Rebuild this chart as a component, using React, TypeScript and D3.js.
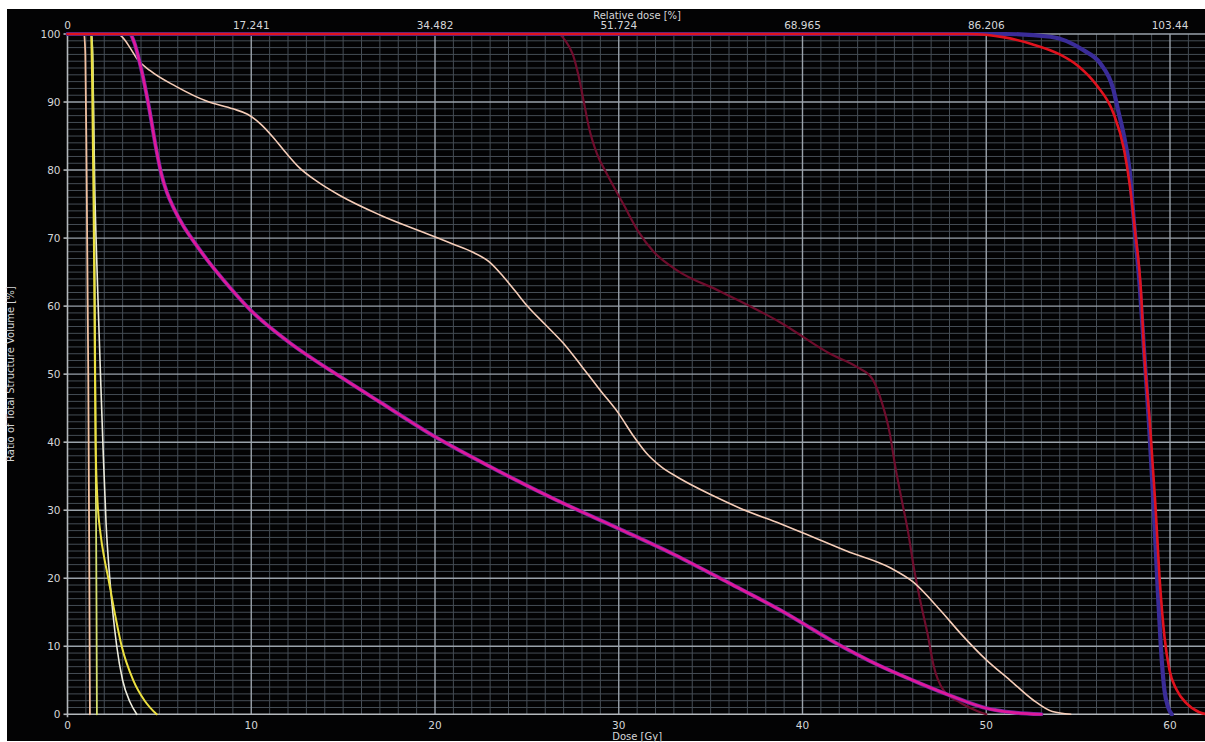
import React from "react";
import * as d3 from "d3";

// ---- axis ticks ----
const doseTicks = [0, 10, 20, 30, 40, 50, 60];
const relTickLabels = ["0", "17.241", "34.482", "51.724", "68.965", "86.206", "103.44"];
const volTicks = [0, 10, 20, 30, 40, 50, 60, 70, 80, 90, 100];

// ---- DVH curves: [dose Gy, volume %] ----
const peachSpike: [number, number][] = [
  [0, 100], [0.9, 100], [0.97, 97], [1.04, 80], [1.13, 50], [1.18, 25], [1.22, 0],
];
const greenSpike: [number, number][] = [
  [0, 100], [1.32, 100], [1.38, 95], [1.47, 70], [1.54, 35], [1.58, 15], [1.6, 0],
];
const yellowTail: [number, number][] = [
  [0, 100], [1.28, 100], [1.34, 93], [1.42, 75], [1.48, 55], [1.53, 40], [1.62, 32],
  [1.8, 26.5], [2.0, 23], [2.22, 20], [2.6, 14.5], [2.95, 10], [3.58, 5], [4.2, 2], [4.85, 0],
];
const whiteTail: [number, number][] = [
  [0, 100], [1.33, 100], [1.4, 92], [1.48, 78], [1.6, 66], [1.72, 56], [1.82, 48],
  [1.95, 38], [2.1, 28], [2.3, 20], [2.68, 10], [3.0, 5], [3.4, 1.8], [3.77, 0],
];
const magentaCurve: [number, number][] = [
  [0, 100], [3.4, 100], [3.6, 99], [4.0, 95], [4.45, 89], [4.8, 83.5], [5.1, 79.5],
  [5.4, 76.8], [5.8, 74.3], [6.3, 71.8], [6.9, 69.4], [7.6, 66.8], [8.5, 63.8],
  [10, 59.3], [12, 54.8], [14.8, 49.7], [17, 45.9], [20, 40.8], [23, 36.4],
  [26.6, 31.5], [30, 27.3], [33, 23.5], [36, 19.3], [38.8, 15.3], [42, 10.2],
  [44, 7.4], [46, 5], [48, 2.8], [50, 0.9], [51.5, 0.25], [53, 0],
];
const peachCurve: [number, number][] = [
  [0, 100], [2.7, 100], [3.0, 99.5], [3.4, 98], [3.77, 96.4], [4.5, 94.6], [5.9, 92.3],
  [7.6, 90.1], [9.0, 89], [9.8, 88.2], [10.5, 86.8], [11.2, 84.8], [11.9, 82.5],
  [12.6, 80.4], [13.6, 78.3], [14.8, 76.3], [17, 73.4], [19.7, 70.5], [21, 69.1],
  [22, 68], [23, 66.4], [23.7, 64.4], [24.4, 62.1], [25, 60.1], [26, 57.3], [27, 54.5],
  [28, 51.1], [29, 47.6], [30, 44.2], [30.8, 40.9], [31.5, 38.4], [32.3, 36.4],
  [33.3, 34.7], [35, 32.3], [36.6, 30.3], [38.8, 28], [40, 26.7], [42.4, 24],
  [44.8, 21.5], [46, 19.5], [47.5, 15.3], [48.6, 11.9], [50, 8], [51.3, 5],
  [52.55, 2.1], [53.6, 0.4], [54.6, 0],
];
const maroonCurve: [number, number][] = [
  [0, 100], [26.7, 100], [27.1, 99], [27.5, 97], [27.8, 94], [28.1, 90], [28.4, 86],
  [28.8, 82.5], [29.4, 79.2], [30.25, 75], [31.06, 71], [31.9, 68], [33.15, 65.3],
  [35.5, 62.2], [38.8, 57.6], [41.5, 53], [43, 51], [43.8, 49.3], [44.3, 46],
  [44.75, 41.3], [45.05, 36.4], [45.4, 31.5], [45.76, 26.6], [46.05, 21.7], [46.4, 16.8],
  [46.8, 11.9], [47.15, 7], [47.66, 3.6], [48.6, 1.7], [49.5, 0.5], [50, 0],
];
const blueCurve: [number, number][] = [
  [0, 100], [51, 100], [53.5, 99.6], [55.3, 97.6], [56.2, 95.7], [56.9, 92],
  [57.2, 88.5], [57.46, 85.5], [57.8, 80], [58.05, 72], [58.35, 63], [58.6, 53],
  [58.85, 43], [59.1, 31], [59.3, 20], [59.5, 10], [59.7, 3.5], [59.9, 1], [60.1, 0],
];
const redCurve: [number, number][] = [
  [0, 100], [49, 100], [51, 99.5], [52.5, 98.5], [54, 97], [55, 95.3], [56, 92.5],
  [56.9, 88.5], [57.5, 83], [57.8, 78], [58.1, 71], [58.4, 63], [58.6, 53],
  [58.9, 43], [59.2, 31], [59.46, 19], [59.7, 11.4], [59.97, 6.5], [60.36, 3.6],
  [60.9, 1.6], [61.6, 0.3], [62, 0],
];

const W = 1205;
const H = 742;

export default function App() {
  const x = d3.scaleLinear().domain([0, 62]).range([67.5, 67.5 + 62 * 18.375]);
  const y = d3.scaleLinear().domain([0, 100]).range([714.3, 34]);
  const line = d3
    .line<[number, number]>()
    .x((d) => x(d[0]))
    .y((d) => y(d[1]))
    .curve(d3.curveMonotoneX);

  const minorDose = d3.range(1, 62.01, 1).filter((d) => d % 10 !== 0);
  const minorVol = d3.range(1, 100, 1).filter((v) => v % 10 !== 0);

  const x0 = x(0);
  const x1 = W;
  const font = "'DejaVu Sans', Verdana, sans-serif";

  const curves: { data: [number, number][]; color: string; w: number }[] = [
    { data: maroonCurve, color: "#6e0c2c", w: 2.2 },
    { data: peachCurve, color: "#f6cdb8", w: 1.6 },
    { data: magentaCurve, color: "#6a2aa0", w: 4 },
    { data: magentaCurve, color: "#e0189a", w: 2.6 },
    { data: whiteTail, color: "#ecebdc", w: 1.6 },
    { data: peachSpike, color: "#f0c0a0", w: 1.8 },
    { data: greenSpike, color: "#d6e070", w: 1.8 },
    { data: yellowTail, color: "#ece040", w: 2 },
    { data: blueCurve, color: "#3a2c98", w: 4.2 },
    { data: redCurve, color: "#e0121e", w: 2.6 },
  ];

  return (
    <svg
      width={W}
      height={H}
      style={{ position: "absolute", left: 0, top: 0, display: "block" }}
    >
      <rect x={0} y={0} width={W} height={H} fill="#ffffff" />
      <rect x={7} y={9} width={W - 7} height={H - 10} fill="#030304" />
      <defs>
        <clipPath id="plotclip">
          <rect x={x0 - 2} y={y(100) - 3} width={x1 - x0 + 4} height={y(0) - y(100) + 5} />
        </clipPath>
      </defs>

      {/* minor grid */}
      <g stroke="#454d55" strokeWidth={1}>
        {minorDose.map((d) => (
          <line key={"mx" + d} x1={x(d)} x2={x(d)} y1={y(100)} y2={y(0)} />
        ))}
        {minorVol.map((v) => (
          <line key={"my" + v} x1={x0} x2={x1} y1={y(v)} y2={y(v)} />
        ))}
      </g>
      {/* major grid */}
      <g stroke="#9aa2aa" strokeWidth={1.4}>
        {doseTicks
          .filter((d) => d > 0)
          .map((d) => (
            <line key={"Mx" + d} x1={x(d)} x2={x(d)} y1={y(100)} y2={y(0)} />
          ))}
        {volTicks
          .filter((v) => v > 0)
          .map((v) => (
            <line key={"My" + v} x1={x0} x2={x1} y1={y(v)} y2={y(v)} />
          ))}
      </g>
      {/* axes */}
      <g stroke="#b4b8bc" strokeWidth={1.6}>
        <line x1={x0} x2={x0} y1={y(100)} y2={y(0) + 3} />
        <line x1={x0} x2={x1} y1={y(0)} y2={y(0)} />
        {volTicks.map((v) => (
          <line key={"ty" + v} x1={x0 - 4} x2={x0} y1={y(v)} y2={y(v)} />
        ))}
      </g>

      {/* curves */}
      <g clipPath="url(#plotclip)" fill="none" strokeLinejoin="round" strokeLinecap="round">
        {curves.map((c, i) => (
          <path key={i} d={line(c.data) || ""} stroke={c.color} strokeWidth={c.w} />
        ))}
      </g>

      {/* tick labels */}
      <g fill="#d4d6d8" fontFamily={font} fontSize={10.5}>
        {volTicks.map((v) => (
          <text key={"ly" + v} x={x0 - 7} y={y(v)} dy="0.35em" textAnchor="end">
            {v}
          </text>
        ))}
        {doseTicks.map((d) => (
          <text key={"lx" + d} x={x(d)} y={729} textAnchor="middle">
            {d}
          </text>
        ))}
        {doseTicks.map((d, i) => (
          <text key={"lt" + d} x={x(d)} y={29} textAnchor="middle">
            {relTickLabels[i]}
          </text>
        ))}
        <text x={(x0 + x(62)) / 2} y={739.5} textAnchor="middle" fontSize={10}>
          Dose [Gy]
        </text>
        <text x={(x0 + x(62)) / 2} y={19} textAnchor="middle" fontSize={10}>
          Relative dose [%]
        </text>
        <text
          transform={`translate(14, ${(y(0) + y(100)) / 2}) rotate(-90)`}
          textAnchor="middle"
          fontSize={10}
        >
          Ratio of Total Structure Volume [%]
        </text>
      </g>
    </svg>
  );
}
